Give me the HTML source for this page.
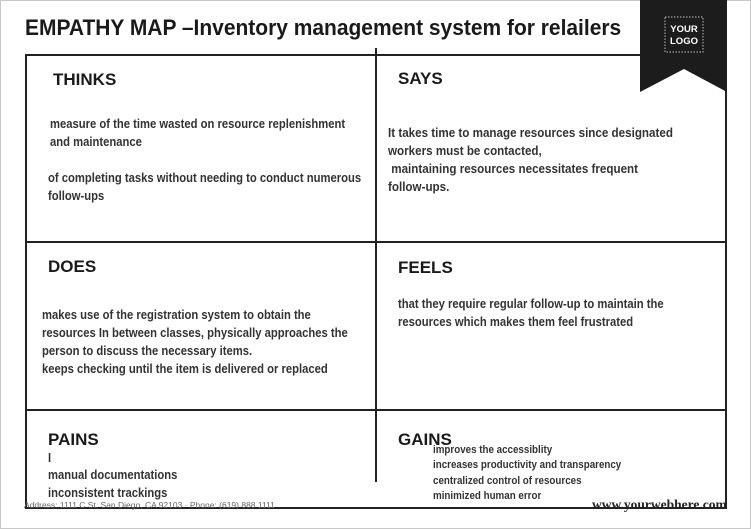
<!DOCTYPE html>
<html><head><meta charset="utf-8"><style>
html,body{margin:0;padding:0;}
body{width:751px;height:529px;position:relative;background:#fff;overflow:hidden;font-family:"Liberation Sans Narrow","Liberation Sans",sans-serif;color:#222;}
.frame{position:absolute;left:0;top:0;width:749px;height:527px;border:1px solid #c8c8c8;}
.t{position:absolute;white-space:nowrap;transform-origin:0 0;}
.h{font-weight:bold;font-size:17px;color:#1a1a1a;}
.b{font-weight:bold;font-size:12.5px;line-height:18px;color:#333;transform:scaleX(0.9);}
.line{position:absolute;background:#222;}
</style></head><body>
<div class="frame"></div>
<div class="t" style="left:25px;top:15px;font-size:22px;font-weight:bold;color:#1a1a1a;transform:scaleX(0.953);">EMPATHY MAP –Inventory management system for relailers</div>
<div style="position:absolute;left:25px;top:54px;width:698px;height:451px;border:2px solid #222;"></div>
<div class="line" style="left:375px;top:48px;width:2px;height:434px;"></div>
<div class="line" style="left:25px;top:241px;width:702px;height:2px;"></div>
<div class="line" style="left:25px;top:409px;width:702px;height:2px;"></div>
<svg style="position:absolute;left:640px;top:0" width="88" height="93"><polygon points="0,0 87,0 87,92 44,69 0,92" fill="#1c1c1c"/><rect x="25" y="17" width="38" height="35" fill="none" stroke="#bbb" stroke-dasharray="1.5,1.5" stroke-width="1"/><text x="44" y="32" fill="#fff" font-family="Liberation Sans" font-weight="bold" font-size="9.5" text-anchor="middle">YOUR</text><text x="44" y="44" fill="#fff" font-family="Liberation Sans" font-weight="bold" font-size="9.5" text-anchor="middle">LOGO</text></svg>

<div class="t h" style="left:53px;top:70px;">THINKS</div>
<div class="t b" style="left:50px;top:115px;">measure of the time wasted on resource replenishment<br>and maintenance</div>
<div class="t b" style="left:48px;top:169px;">of completing tasks without needing to conduct numerous<br>follow-ups</div>

<div class="t h" style="left:398px;top:69px;">SAYS</div>
<div class="t b" style="left:388px;top:124px;transform:scaleX(0.93);">It takes time to manage resources since designated<br>workers must be contacted,<br>&nbsp;maintaining resources necessitates frequent<br>follow-ups.</div>

<div class="t h" style="left:48px;top:257px;">DOES</div>
<div class="t b" style="left:42px;top:306px;">makes use of the registration system to obtain the<br>resources In between classes, physically approaches the<br>person to discuss the necessary items.<br>keeps checking until the item is delivered or replaced</div>

<div class="t h" style="left:398px;top:258px;">FEELS</div>
<div class="t b" style="left:398px;top:295px;">that they require regular follow-up to maintain the<br>resources which makes them feel frustrated</div>

<div class="t h" style="left:48px;top:430px;">PAINS</div>
<div class="t b" style="left:48px;top:449px;">I</div>
<div class="t b" style="left:48px;top:466px;">manual documentations</div>
<div class="t b" style="left:48px;top:484px;">inconsistent trackings</div>

<div class="t h" style="left:398px;top:430px;">GAINS</div>
<div class="t b" style="left:433px;top:443px;font-size:11px;line-height:15.3px;transform:scaleX(0.89);">improves the accessiblity<br>increases productivity and transparency<br>centralized control of resources<br>minimized human error</div>

<div class="t" style="left:24px;top:500px;font-size:8.5px;color:#666;">Address: 1111 C St, San Diego, CA 92103 · Phone: (619) 888 1111</div>
<div class="t" style="left:592px;top:497px;font-size:13.5px;font-weight:bold;color:#222;font-family:'Liberation Serif',serif;">www.yourwebhere.com</div>
</body></html>
